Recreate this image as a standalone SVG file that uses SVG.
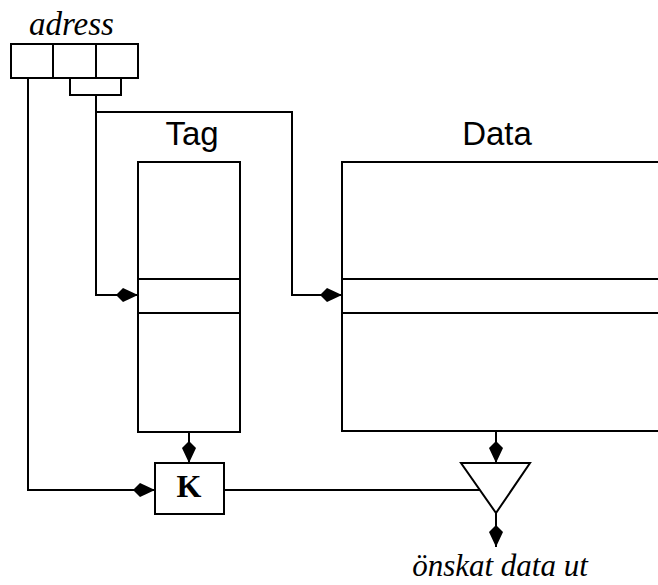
<svg xmlns="http://www.w3.org/2000/svg" width="658" height="585" viewBox="0 0 658 585">
  <style>
    .ln { fill: none; stroke: #000; stroke-width: 2; }
    .box { fill: #fff; stroke: #000; stroke-width: 2; }
    .it { font-family: "Liberation Serif", "Times New Roman", serif; font-style: italic; fill: #000; }
    .hd { font-family: "Liberation Sans", Arial, sans-serif; font-size: 33px; fill: #000; text-anchor: middle; }
    .k { font-family: "Liberation Serif", "Times New Roman", serif; font-weight: bold; font-size: 32px; fill: #000; text-anchor: middle; }
  </style>
  <defs>
    <!-- kite-shaped arrowhead, tip at the line end -->
    <marker id="kite" markerUnits="userSpaceOnUse" markerWidth="24" markerHeight="16" viewBox="-23 -8 24 16" refX="0" refY="0" orient="auto">
      <path d="M0,0 L-15,-7 L-22,0 L-15,7 Z" fill="#000"/>
    </marker>
  </defs>

  <!-- address register -->
  <g id="adress">
    <text class="it" x="29" y="35" font-size="33">adress</text>
    <rect class="box" x="11" y="44" width="127" height="34"/>
    <line class="ln" x1="53" y1="44" x2="53" y2="78"/>
    <line class="ln" x1="96" y1="44" x2="96" y2="78"/>
  </g>

  <!-- tag memory -->
  <g id="tag">
    <text class="hd" x="192" y="145">Tag</text>
    <rect class="box" x="138" y="162" width="102" height="270"/>
    <line class="ln" x1="138" y1="279" x2="240" y2="279"/>
    <line class="ln" x1="138" y1="313" x2="240" y2="313"/>
  </g>

  <!-- data memory, running off the right edge -->
  <g id="data">
    <text class="hd" x="497" y="145">Data</text>
    <path class="ln" d="M670,162 H342 V431 H670"/>
    <line class="ln" x1="342" y1="279" x2="670" y2="279"/>
    <line class="ln" x1="342" y1="313" x2="670" y2="313"/>
  </g>

  <!-- comparator -->
  <g id="k">
    <rect class="box" x="155" y="463" width="69" height="51"/>
    <text class="k" x="189" y="497">K</text>
  </g>

  <!-- output gate -->
  <g id="gate">
    <path class="box" d="M461,463 H530 L496,513 Z"/>
  </g>

  <text class="it" x="500" y="576" font-size="31" text-anchor="middle">önskat data ut</text>

  <g id="connectors">
    <!-- index field bracket -->
    <path class="ln" d="M70,78 V95 H121 V78"/>
    <path class="ln" d="M96,95 V295 H138" marker-end="url(#kite)"/>
    <path class="ln" d="M96,112 H292 V295 H342" marker-end="url(#kite)"/>
    <!-- tag field to comparator -->
    <path class="ln" d="M28,78 V490 H155" marker-end="url(#kite)"/>
    <line class="ln" x1="189" y1="432" x2="189" y2="463" marker-end="url(#kite)"/>
    <!-- comparator enables gate -->
    <line class="ln" x1="224" y1="490" x2="480" y2="490"/>
    <line class="ln" x1="496" y1="431" x2="496" y2="463" marker-end="url(#kite)"/>
    <line class="ln" x1="496" y1="513" x2="496" y2="547" marker-end="url(#kite)"/>
  </g>
</svg>
